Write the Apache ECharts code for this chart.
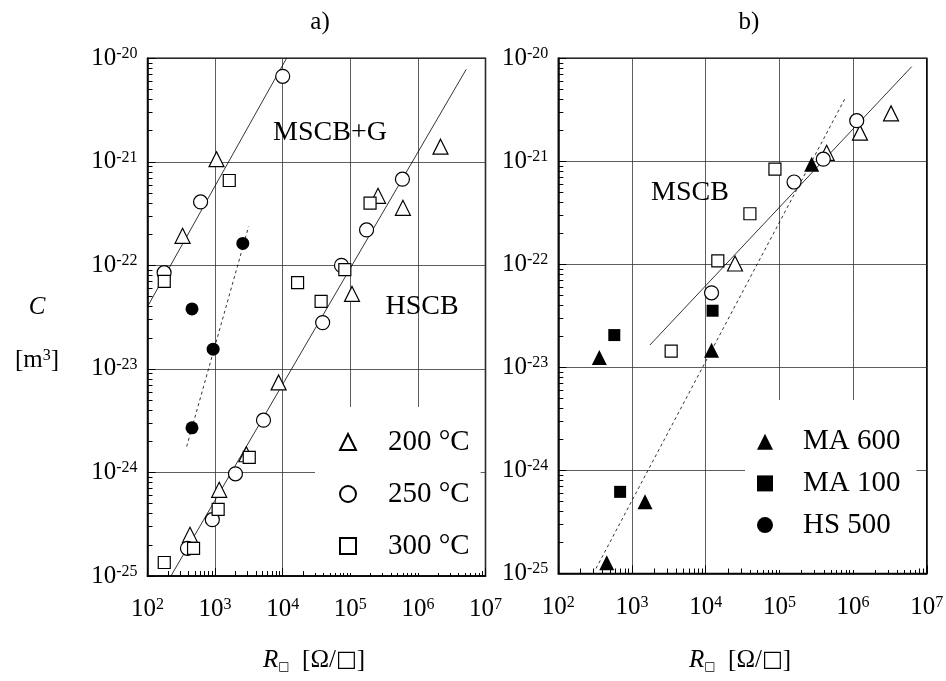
<!DOCTYPE html>
<html>
<head>
<meta charset="utf-8">
<script src="https://cdn.jsdelivr.net/npm/echarts@6/dist/echarts.min.js"></script>
<style>
  html, body { margin: 0; padding: 0; background: #fff; }
  #chart { width: 946px; height: 681px; }
</style>
</head>
<body>
<div id="chart"></div>
<script>
const FONT = "'Liberation Serif', 'Times New Roman', serif";

// panel a) : [R (ohm/sq), C (m^3)]
const a200 = [[425, 2.5e-25], [1150, 6.8e-25], [2900, 1.5e-24], [8700, 7.4e-24], [330, 1.93e-22], [1050, 1.06e-21],
  [1.06e5, 5.3e-23], [2.57e5, 4.7e-22], [6.0e5, 3.6e-22], [2.16e6, 1.4e-21]];
const a250 = [[390, 1.85e-25], [910, 3.5e-25], [2000, 9.7e-25], [5200, 3.2e-24], [3.9e4, 2.8e-23], [7.4e4, 1.0e-22],
  [1.74e5, 2.2e-22], [5.9e5, 6.8e-22], [176, 8.5e-23], [610, 4.1e-22], [1.0e4, 6.7e-21]];
const a300 = [[177, 1.35e-25], [480, 1.85e-25], [1110, 4.4e-25], [3200, 1.4e-24], [177, 7.0e-23], [1620, 6.6e-22],
  [1.66e4, 6.8e-23], [3.7e4, 4.5e-23], [8.3e4, 9.1e-23], [1.96e5, 4.0e-22]];
const aHS500 = [[455, 2.7e-24], [935, 1.55e-23], [455, 3.8e-23], [2570, 1.63e-22]];
const aFitMSCBG = [[100, 4.0e-23], [1.14e4, 1e-20]];
const aFitHSCB = [[222, 1e-25], [5.19e6, 7.83e-21]];
const aFitHS500 = [[380, 1.78e-24], [3130, 2.37e-22]];

// panel b)
const b200 = [[2.5e4, 1.02e-22], [4.38e5, 1.21e-21], [1.24e6, 1.9e-21], [3.27e6, 2.92e-21]];
const b250 = [[1.2e4, 5.3e-23], [1.58e5, 6.3e-22], [3.94e5, 1.05e-21], [1.12e6, 2.48e-21]];
const b300 = [[3400, 1.44e-23], [1.46e4, 1.08e-22], [3.98e4, 3.1e-22], [8.7e4, 8.4e-22]];
const bMA600 = [[454, 1.27e-25], [1500, 4.96e-25], [360, 1.25e-23], [1.2e4, 1.47e-23], [2.74e5, 9.35e-22]];
const bMA100 = [[690, 6.2e-25], [575, 2.06e-23], [1.24e4, 3.55e-23]];
const bFitMSCB = [[1750, 1.65e-23], [6.24e6, 8.3e-21]];
const bFitDotted = [[325, 1.12e-25], [7.76e5, 4.07e-21]];

const legendA = ['200 °C', '250 °C', '300 °C'];
const legendB = ['MA 600', 'MA 100', 'HS 500'];

const xMin = 1e2, xMax = 1e7, yMin = 1e-25, yMax = 1e-20;
// echarts' log scale rounds values this small to 0, so C is plotted in units of 1e-25 m^3
const Y_UNIT = 1e-25;
const Y_EXP = -25;
const toPlot = arr => arr.map(d => [d[0], d[1] / Y_UNIT]);

const chart = echarts.init(document.getElementById('chart'));

const powLabel = {
  b: { fontSize: 25, fontFamily: FONT, color: '#000' },
  s: { fontSize: 16, fontFamily: FONT, color: '#000', verticalAlign: 'top' }
};
const fmtX = v => '{b|10}{s|' + Math.round(Math.log10(v)) + '}';
const fmtY = v => '{b|10}{s|' + (Math.round(Math.log10(v)) + Y_EXP) + '}';

const axisCommon = {
  type: 'log', logBase: 10,
  axisLine: { show: true, lineStyle: { color: '#000', width: 1.5 } },
  axisTick: { show: true, inside: true, length: 8, lineStyle: { color: '#000' } },
  minorTick: { show: true, splitNumber: 9, length: 5, lineStyle: { color: '#000', width: 1 } },
  splitLine: { show: true, lineStyle: { color: '#333', width: 0.8 } }
};
function xAxisFor(i) {
  return Object.assign({}, axisCommon, {
    gridIndex: i, min: xMin, max: xMax,
    axisLabel: { formatter: fmtX, rich: powLabel, margin: 21 }
  });
}
function yAxisFor(i) {
  return Object.assign({}, axisCommon, {
    gridIndex: i, min: yMin / Y_UNIT, max: yMax / Y_UNIT,
    axisLabel: { formatter: fmtY, rich: powLabel, margin: 10 }
  });
}

function fit(i, data, dotted) {
  return {
    type: 'line', xAxisIndex: i, yAxisIndex: i, data: toPlot(data), symbol: 'none', silent: true, z: 2,
    lineStyle: { color: '#000', width: 0.8, type: dotted ? [3, 3] : 'solid' }
  };
}

function open(name, i, data, symbol, size) {
  return {
    name, type: 'scatter', xAxisIndex: i, yAxisIndex: i, data: toPlot(data), symbol, symbolSize: size, z: 4,
    itemStyle: { color: '#fff', borderColor: '#000', borderWidth: 1.2, opacity: 1 }
  };
}
function filled(name, i, data, symbol, size) {
  return {
    name, type: 'scatter', xAxisIndex: i, yAxisIndex: i, data: toPlot(data), symbol, symbolSize: size, z: 4,
    itemStyle: { color: '#000', borderColor: '#000', borderWidth: 0, opacity: 1 }
  };
}

function txt(x, y, text, size, extra) {
  return {
    type: 'text', x, y, z: 10,
    style: Object.assign({
      text, fontSize: size, fontFamily: FONT, fill: '#000', align: 'center', verticalAlign: 'middle'
    }, extra || {})
  };
}

const titleRich = {
  i: { fontSize: 25, fontFamily: FONT, fontStyle: 'italic', color: '#000' },
  sub: { fontSize: 12, fontFamily: 'DejaVu Sans', color: '#000', verticalAlign: 'bottom' },
  n: { fontSize: 25, fontFamily: FONT, color: '#000' },
  s: { fontSize: 16, fontFamily: FONT, color: '#000', verticalAlign: 'top' },
  q: { fontSize: 22, fontFamily: 'DejaVu Sans', color: '#000' }
};

const gridBase = { show: true, borderColor: '#000', borderWidth: 1.5, containLabel: false, outerBoundsMode: 'none' };

const option = {
  backgroundColor: '#fff',
  animation: false,
  grid: [
    Object.assign({ left: 147.5, top: 58.3, width: 338, height: 517.7 }, gridBase),
    Object.assign({ left: 558.3, top: 58.3, width: 368.5, height: 515.2 }, gridBase)
  ],
  xAxis: [xAxisFor(0), xAxisFor(1)],
  yAxis: [yAxisFor(0), yAxisFor(1)],
  legend: [
    {
      data: legendA, orient: 'vertical', left: 315, top: 407,
      padding: [20, 11, 12, 24], itemGap: 22, itemWidth: 16, itemHeight: 16,
      backgroundColor: '#fff', z: 6, selectedMode: false,
      textStyle: { fontSize: 29, fontFamily: FONT, color: '#000', lineHeight: 30, padding: [0, 0, 0, 27] }
    },
    {
      data: legendB, orient: 'vertical', left: 745, top: 400,
      padding: [26.7, 16, 30, 12], itemGap: 11.7, itemWidth: 16, itemHeight: 16,
      backgroundColor: '#fff', z: 6, selectedMode: false,
      textStyle: { fontSize: 29, fontFamily: FONT, color: '#000', lineHeight: 30, padding: [0, 0, 0, 25] }
    }
  ],
  graphic: [
    txt(320, 22, 'a)', 25),
    txt(749, 22, 'b)', 25),
    txt(330, 133, 'MSCB+G', 28),
    txt(422, 307, 'HSCB', 28),
    txt(690, 193, 'MSCB', 28),
    txt(37, 307, 'C', 25, { fontStyle: 'italic' }),
    txt(37, 360, '{n|[m}{s|3}{n|]}', 25, { rich: titleRich }),
    txt(314, 660, '{i|R}{sub|□}{n|  [Ω/}{q|□}{n|]}', 25, { rich: titleRich }),
    txt(740, 660, '{i|R}{sub|□}{n|  [Ω/}{q|□}{n|]}', 25, { rich: titleRich })
  ],
  series: [
    fit(0, aFitMSCBG, false), fit(0, aFitHSCB, false), fit(0, aFitHS500, true),
    fit(1, bFitMSCB, false), fit(1, bFitDotted, true),
    open('200 °C', 0, a200, 'triangle', 15),
    open('250 °C', 0, a250, 'circle', 14),
    open('300 °C', 0, a300, 'rect', 12),
    filled('HS 500', 0, aHS500, 'circle', 13),
    open('200 °C', 1, b200, 'triangle', 15),
    open('250 °C', 1, b250, 'circle', 14),
    open('300 °C', 1, b300, 'rect', 12),
    filled('MA 600', 1, bMA600, 'triangle', 15),
    filled('MA 100', 1, bMA100, 'rect', 12)
  ]
};

chart.setOption(option);
window.addEventListener('resize', () => chart.resize());
</script>
</body>
</html>
